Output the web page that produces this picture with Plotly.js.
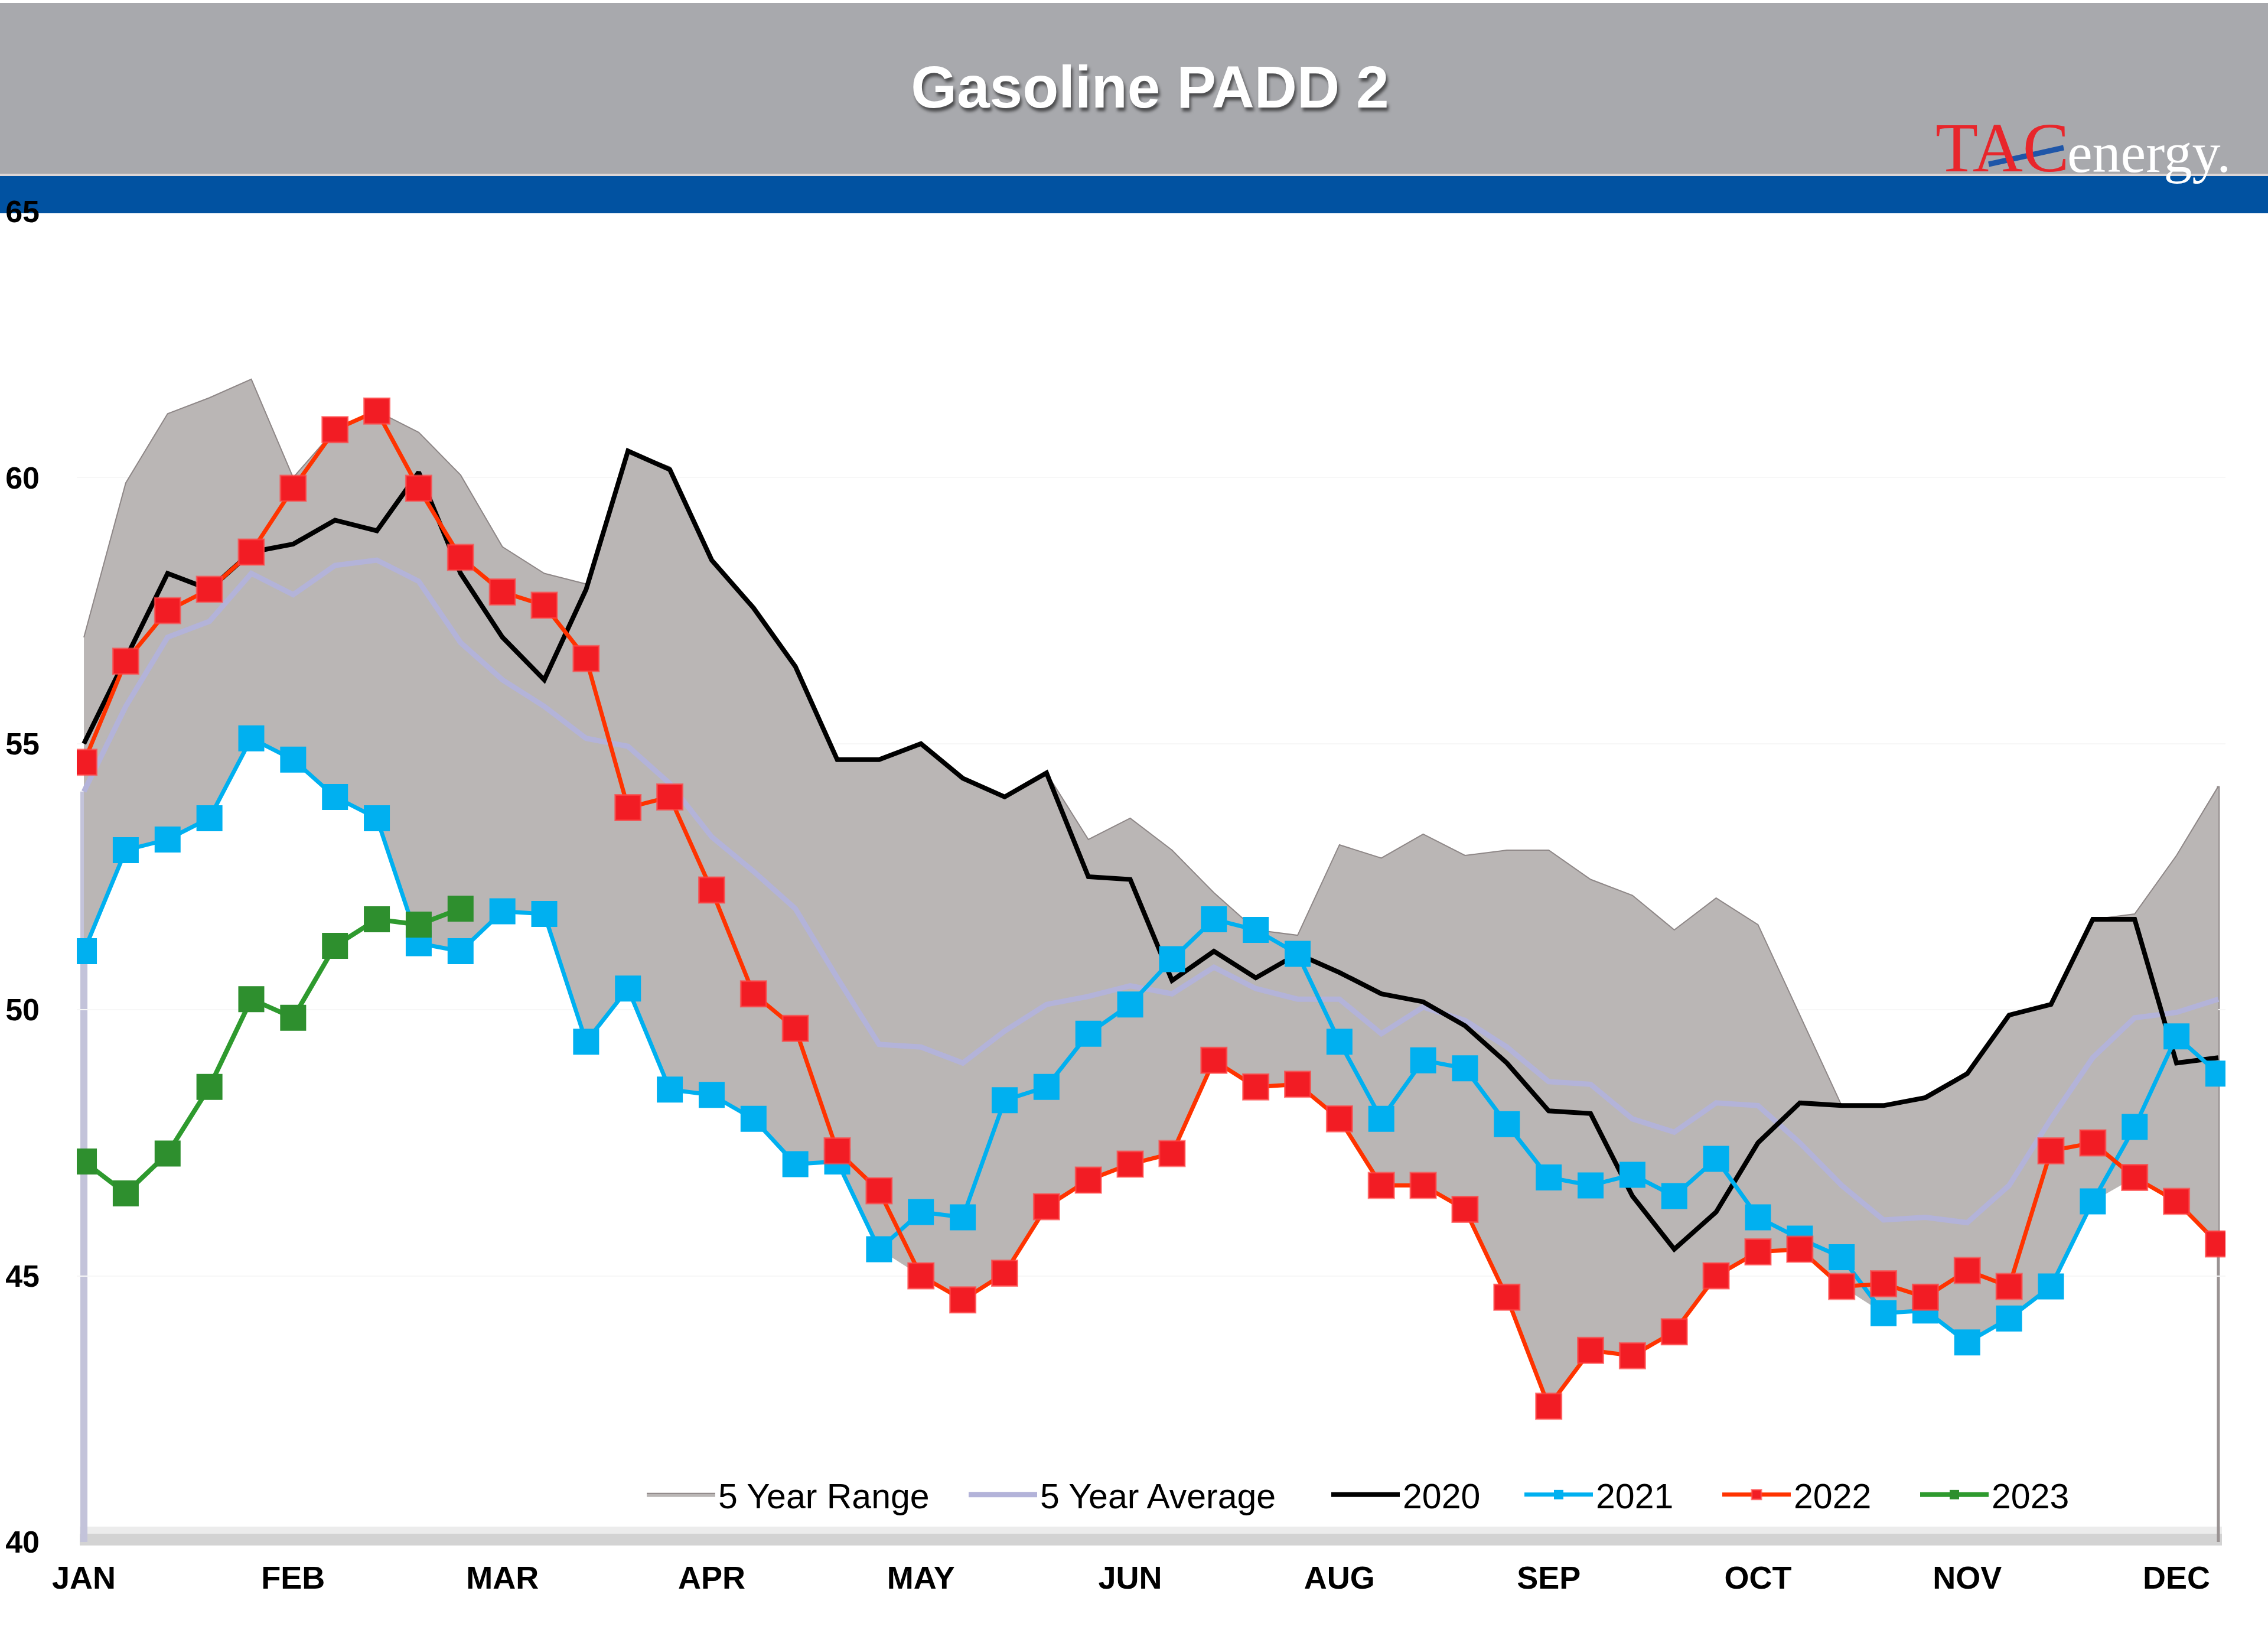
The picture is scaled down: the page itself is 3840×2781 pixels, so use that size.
<!DOCTYPE html>
<html>
<head>
<meta charset="utf-8">
<script src="https://cdn.plot.ly/plotly-3.0.1.min.js"></script>
<style>
  html, body { margin: 0; padding: 0; background: #ffffff; }
  #chart { width: 3840px; height: 2781px; }
</style>
</head>
<body>
<div id="chart"></div>
<script>
// ---------------- DATA ----------------
const weeks = [1,2,3,4,5,6,7,8,9,10,11,12,13,14,15,16,17,18,19,20,21,22,23,24,25,26,
               27,28,29,30,31,32,33,34,35,36,37,38,39,40,41,42,43,44,45,46,47,48,49,50,51,52];
const weeks2023 = [1,2,3,4,5,6,7,8,9,10];

const tickWeeks  = [1,6,11,16,21,26,31,36,41,46,51];
const tickLabels = ["JAN","FEB","MAR","APR","MAY","JUN","AUG","SEP","OCT","NOV","DEC"];
const yTicks     = [40,45,50,55,60,65];

const rangeMax = [57.0,59.9,61.2,61.5,61.85,60.0,60.9,61.25,60.85,60.05,
                  58.7,58.2,58.0,60.5,60.2,58.45,57.55,56.45,54.7,54.7,
                  55.0,54.35,54.0,54.45,53.2,53.6,53.0,52.2,51.5,51.4,
                  53.1,52.85,53.3,52.9,53.0,53.0,52.45,52.15,51.5,52.1,
                  51.6,49.9,48.2,48.2,48.35,48.8,49.9,50.1,51.7,51.8,
                  52.9,54.2];
const rangeMin = [51.1,53.0,53.2,53.6,55.1,54.7,54.0,53.6,51.25,51.1,
                  51.85,51.8,49.4,50.4,48.5,48.4,47.95,47.1,47.15,45.5,
                  45.0,44.55,45.05,46.3,46.8,47.1,47.3,49.05,48.55,48.6,
                  47.95,46.7,46.7,46.25,44.6,42.55,43.6,43.5,43.95,45.0,
                  45.45,45.5,44.8,44.3,44.35,43.75,44.2,44.8,46.4,46.85,
                  46.4,45.6];
const avg5 = [54.1,55.7,57.0,57.3,58.2,57.8,58.35,58.45,58.05,56.9,
              56.2,55.7,55.1,54.95,54.25,53.25,52.6,51.9,50.6,49.35,
              49.3,49.0,49.6,50.1,50.25,50.45,50.3,50.8,50.4,50.2,
              50.2,49.55,50.05,49.8,49.3,48.65,48.6,47.95,47.7,48.25,
              48.2,47.5,46.7,46.05,46.1,46.0,46.7,47.95,49.1,49.85,
              49.95,50.2];
const y2020 = [55.0,56.6,58.2,57.9,58.6,58.75,59.2,59.0,60.1,58.2,
               57.0,56.2,57.9,60.5,60.15,58.45,57.55,56.45,54.7,54.7,
               55.0,54.35,54.0,54.45,52.5,52.45,50.55,51.1,50.6,51.05,
               50.7,50.3,50.15,49.7,49.0,48.1,48.05,46.5,45.5,46.2,
               47.5,48.25,48.2,48.2,48.35,48.8,49.9,50.1,51.7,51.7,
               49.0,49.1];
const y2021 = [51.1,53.0,53.2,53.6,55.1,54.7,54.0,53.6,51.25,51.1,
               51.85,51.8,49.4,50.4,48.5,48.4,47.95,47.1,47.15,45.5,
               46.2,46.1,48.3,48.55,49.55,50.1,50.95,51.7,51.5,51.05,
               49.4,47.95,49.05,48.9,47.85,46.85,46.7,46.9,46.5,47.2,
               46.1,45.7,45.35,44.3,44.35,43.75,44.2,44.8,46.4,47.8,
               49.5,48.8];
const y2022 = [54.65,56.55,57.5,57.9,58.6,59.8,60.9,61.25,59.8,58.5,
               57.85,57.6,56.6,53.8,54.0,52.25,50.3,49.65,47.35,46.6,
               45.0,44.55,45.05,46.3,46.8,47.1,47.3,49.05,48.55,48.6,
               47.95,46.7,46.7,46.25,44.6,42.55,43.6,43.5,43.95,45.0,
               45.45,45.5,44.8,44.85,44.6,45.1,44.8,47.35,47.5,46.85,
               46.4,45.6];
const y2023 = [47.15,46.55,47.3,48.55,50.2,49.85,51.2,51.7,51.6,51.9];

// ---------------- LAYOUT GEOMETRY ----------------
const W = 3840, H = 2781;
const mL = 130, mR = 72, mT = 358, mB = 171;
const plotW = W - mL - mR;
const plotH = H - mT - mB;
const px = p => (p - mL) / plotW;          // pixel x -> paper x
const py = p => (H - mB - p) / plotH;      // pixel y -> paper y

const FONT = "Liberation Sans, Arial, sans-serif";
const SERIF = "Liberation Serif, Times New Roman, serif";

// ---------------- TRACES ----------------
const traces = [
  { x: weeks, y: rangeMin, mode: "lines", line: { width: 0, color: "rgba(0,0,0,0)" },
    showlegend: false, hoverinfo: "skip" },
  { x: weeks, y: rangeMax, mode: "lines", fill: "tonexty", fillcolor: "#BAB6B5",
    line: { color: "#8E8787", width: 2 }, name: "5 Year Range", legend: "legend" },
  { x: weeks, y: avg5, mode: "lines", line: { color: "#B3B3D9", width: 9 },
    name: "5 Year Average", legend: "legend2" },
  { x: weeks, y: y2020, mode: "lines", line: { color: "#000000", width: 8 },
    name: "2020", legend: "legend3" },
  { x: weeks, y: y2021, mode: "lines+markers", line: { color: "#00B0F0", width: 7 },
    marker: { symbol: "square", size: 44, color: "#00B0F0" }, name: "2021", legend: "legend4" },
  { x: weeks, y: y2022, mode: "lines+markers", line: { color: "#FF3300", width: 7 },
    marker: { symbol: "square", size: 43, color: "#F21C24", line: { color: "rgba(255,70,70,0.7)", width: 3 } },
    name: "2022", legend: "legend5" },
  { x: weeks2023, y: y2023, mode: "lines+markers", line: { color: "#2E9A2E", width: 8 },
    marker: { symbol: "square", size: 44, color: "#2E8F2E" }, name: "2023", legend: "legend6" }
];

// one single-entry legend per series, placed where the reference puts it
const legendStarts = [1090, 1635, 2249, 2576, 2911, 3246];
function legendAt(p) {
  return {
    orientation: "h",
    x: px(p), xanchor: "left",
    y: py(2530), yanchor: "middle",
    font: { family: FONT, size: 59, color: "#000000" },
    bgcolor: "rgba(0,0,0,0)",
    itemwidth: 116
  };
}

// ---------------- LAYOUT ----------------
const layout = {
  width: W, height: H,
  margin: { l: mL, r: mR, t: mT, b: mB, pad: 0 },
  paper_bgcolor: "#FFFFFF",
  plot_bgcolor: "rgba(0,0,0,0)",
  showlegend: true,
  title: {
    text: "Gasoline PADD 2",
    xref: "container", yref: "container",
    x: 0.507, xanchor: "center",
    y: 1 - 147 / H, yanchor: "middle",
    font: { family: FONT, size: 100, color: "#FFFFFF", weight: "bold",
            shadow: "3px 6px 5px rgba(0,0,0,0.55)" }
  },
  xaxis: {
    range: [0.83, 52.17],
    tickmode: "array", tickvals: tickWeeks, ticktext: tickLabels,
    showgrid: false, zeroline: false, showline: false,
    ticks: "", ticklabelstandoff: 24,
    tickfont: { family: FONT, size: 54, color: "#000000", weight: "bold" },
    fixedrange: true
  },
  yaxis: {
    range: [40, 65],
    tickmode: "array", tickvals: yTicks,
    showgrid: true, gridcolor: "#F7F7F7", gridwidth: 2,
    zeroline: false, showline: false,
    ticks: "", ticklabelstandoff: 62,
    tickfont: { family: FONT, size: 52, color: "#000000", weight: "bold" },
    fixedrange: true
  },
  legend:  legendAt(legendStarts[0]),
  legend2: legendAt(legendStarts[1]),
  legend3: legendAt(legendStarts[2]),
  legend4: legendAt(legendStarts[3]),
  legend5: legendAt(legendStarts[4]),
  legend6: legendAt(legendStarts[5]),
  shapes: [
    // header grey band
    { type: "rect", xref: "paper", yref: "paper", layer: "below",
      x0: px(0), x1: px(W), y0: py(294), y1: py(5),
      fillcolor: "#A8A9AD", line: { width: 0 } },
    // thin light separator
    { type: "rect", xref: "paper", yref: "paper", layer: "below",
      x0: px(0), x1: px(W), y0: py(298), y1: py(294),
      fillcolor: "#DDD6D6", line: { width: 0 } },
    // blue band
    { type: "rect", xref: "paper", yref: "paper", layer: "below",
      x0: px(0), x1: px(W), y0: py(361), y1: py(298),
      fillcolor: "#0152A1", line: { width: 0 } },
    // floor of the plot (soft grey band)
    { type: "rect", xref: "paper", yref: "paper", layer: "below",
      x0: px(135), x1: px(3762), y0: py(2596), y1: py(2584),
      fillcolor: "#ECECEC", line: { width: 0 } },
    { type: "rect", xref: "paper", yref: "paper", layer: "below",
      x0: px(135), x1: px(3762), y0: py(2616), y1: py(2596),
      fillcolor: "#D3D3D3", line: { width: 0 } },
    // left edge of range area (drops from the first average value to the floor)
    { type: "line", xref: "x", yref: "y", layer: "below",
      x0: weeks[0], x1: weeks[0], y0: yTicks[0], y1: avg5[0],
      line: { color: "#C3C3DA", width: 12 } },
    // right edge of range area
    { type: "line", xref: "x", yref: "y", layer: "below",
      x0: weeks[weeks.length - 1], x1: weeks[weeks.length - 1], y0: yTicks[0], y1: rangeMax[rangeMax.length - 1],
      line: { color: "#9A9393", width: 5 } },
    // logo slash
    { type: "line", xref: "paper", yref: "paper", layer: "above",
      x0: px(3367), y0: py(278), x1: px(3494), y1: py(250),
      line: { color: "#1F56A8", width: 9 } }
  ],
  annotations: [
    { text: "TAC", xref: "paper", yref: "paper", x: px(3506), xanchor: "right",
      y: py(250), yanchor: "middle", showarrow: false,
      font: { family: SERIF, size: 118, color: "#E8262B" } },
    { text: "energy.", xref: "paper", yref: "paper", x: px(3498), xanchor: "left",
      y: py(258), yanchor: "middle", showarrow: false,
      font: { family: SERIF, size: 96, color: "#FFFFFF" } }
  ]
};

Plotly.newPlot("chart", traces, layout, { displayModeBar: false, staticPlot: true });
</script>
</body>
</html>
